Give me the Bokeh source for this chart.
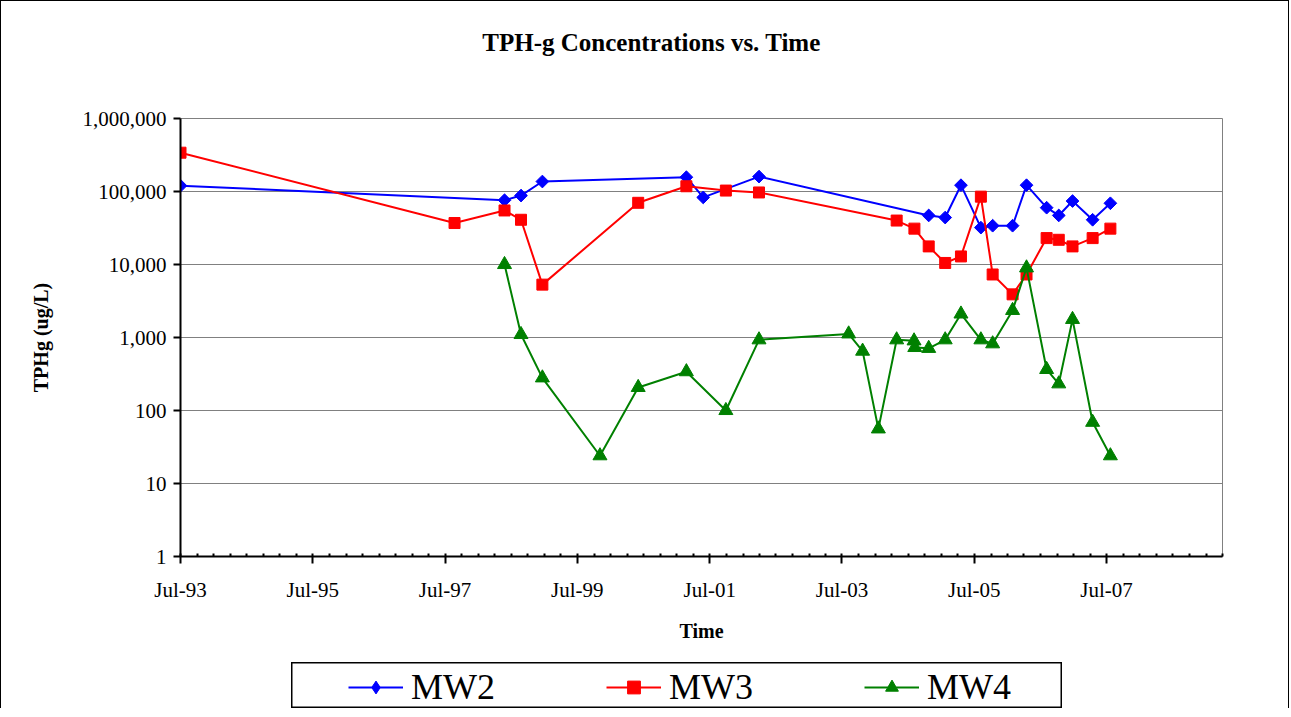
import numpy as np
import pandas as pd
from bokeh.plotting import figure
from bokeh.layouts import column, row
from bokeh.models import (Range1d, FixedTicker, DatetimeTickFormatter, NumeralTickFormatter,
                          Legend, LegendItem, Label, Spacer)
from bokeh.embed import file_html
from bokeh.resources import INLINE

SERIF = "Liberation Serif"

# ---------------- data ----------------
mw2_dates = ["1993-07-01", "1998-05-25", "1998-08-24", "1998-12-20", "2001-02-22", "2001-05-26",
             "2002-03-30", "2004-10-22", "2005-01-21", "2005-04-18", "2005-08-06", "2005-10-10",
             "2006-01-28", "2006-04-15", "2006-08-04", "2006-10-10", "2006-12-25", "2007-04-15",
             "2007-07-22"]
mw2_values = [120000, 76000, 88000, 137000, 157000, 83000,
              160000, 47000, 44000, 122000, 32000, 34000,
              34000, 122000, 60000, 47000, 74000, 41000,
              69000]

mw3_dates = ["1993-07-01", "1997-08-22", "1998-05-25", "1998-08-24", "1998-12-20", "2000-06-01",
             "2001-02-22", "2001-09-28", "2002-03-30", "2004-04-28", "2004-08-04", "2004-10-22",
             "2005-01-21", "2005-04-18", "2005-08-06", "2005-10-10", "2006-01-28", "2006-04-15",
             "2006-08-04", "2006-10-10", "2006-12-25", "2007-04-15", "2007-07-22"]
mw3_values = [340000, 37000, 55000, 41000, 5300, 70000,
              118000, 103000, 97000, 40000, 31000, 17700,
              10500, 12900, 85000, 7300, 3900, 7300,
              23000, 21800, 17700, 23000, 31000]

mw4_dates = ["1998-05-25", "1998-08-24", "1998-12-20", "1999-11-03", "2000-06-01", "2001-02-22",
             "2001-09-28", "2002-03-30", "2003-08-07", "2003-10-23", "2004-01-18", "2004-04-28",
             "2004-08-02", "2004-08-06", "2004-10-22", "2005-01-21", "2005-04-18", "2005-08-06",
             "2005-10-10", "2006-01-28", "2006-04-15", "2006-08-04", "2006-10-10", "2006-12-25",
             "2007-04-15", "2007-07-22"]
mw4_values = [10000, 1100, 280, 24, 207, 340,
              100, 930, 1120, 650, 56, 930,
              900, 730, 710, 930, 2100, 930,
              820, 2350, 9000, 365, 232, 1770,
              69, 24]

major_tick_dates = ["1993-07-01", "1995-07-01", "1997-07-01", "1999-07-01",
                    "2001-07-01", "2003-07-01", "2005-07-01", "2007-07-01"]
x_start, x_end = "1993-07-01", "2009-04-01"
y_ticks = [1, 10, 100, 1000, 10000, 100000, 1000000]

title_text = "TPH-g Concentrations vs. Time"
x_title = "Time"
y_title = "TPHg (ug/L)"
series_names = ["MW2", "MW3", "MW4"]


def ms(s):
    return pd.Timestamp(s).value / 1e6


minor_tick_dates = pd.date_range(x_start, x_end, freq="3MS")

W = 1287
TITLE_H = 82
MAIN_H = 579
LEG_W, LEG_H = 771, 46

# ---------------- title strip ----------------
# (frames in a column are aligned, so this strip's frame starts where the chart's does)
tf = figure(width=W, height=TITLE_H, x_range=Range1d(0, 1), y_range=Range1d(0, 1),
            x_axis_location=None, y_axis_location=None, title_location=None,
            toolbar_location=None, output_backend="svg", min_border=0,
            outline_line_color=None, background_fill_color="white", border_fill_color="white")
tf.grid.visible = False
tf.add_layout(Label(x=471, y=41, x_units="screen", y_units="screen", text=title_text,
                    text_align="center", text_baseline="middle", text_font=SERIF,
                    text_font_size="25px", text_font_style="bold", text_color="black"))

# ---------------- main chart ----------------
p = figure(width=W, height=MAIN_H, x_axis_type="datetime", y_axis_type="log",
           x_range=Range1d(ms(x_start), ms(x_end)), y_range=Range1d(1, 1e6),
           title_location=None, output_backend="svg", toolbar_location=None,
           min_border_left=179, min_border_right=66, min_border_top=35, min_border_bottom=106,
           background_fill_color="white", border_fill_color="white",
           outline_line_color="#808080", outline_line_width=1)

p.xaxis.ticker = FixedTicker(ticks=[ms(d) for d in major_tick_dates],
                             minor_ticks=[ms(d) for d in minor_tick_dates])
fmt = "%b-%y"
p.xaxis.formatter = DatetimeTickFormatter(days=fmt, months=fmt, years=fmt, boundary_scaling=False)
p.yaxis.ticker = FixedTicker(ticks=y_ticks, minor_ticks=[])
p.yaxis.formatter = NumeralTickFormatter(format="0,0")

for ax in (p.xaxis[0], p.yaxis[0]):
    ax.axis_line_color = "black"
    ax.axis_line_width = 2
    ax.major_tick_line_color = "black"
    ax.major_tick_line_width = 2
    ax.major_tick_in = 0
    ax.major_tick_out = 7
    ax.major_label_text_font = SERIF
    ax.major_label_text_font_size = "21px"
    ax.major_label_text_color = "black"
    ax.axis_label_text_font = SERIF
    ax.axis_label_text_font_size = "20px"
    ax.axis_label_text_font_style = "bold"
    ax.axis_label_text_color = "black"

p.xaxis.axis_label = x_title
p.yaxis.axis_label = y_title
p.xaxis.minor_tick_line_color = "black"
p.xaxis.minor_tick_line_width = 2
p.xaxis.minor_tick_in = 3
p.xaxis.minor_tick_out = 0
p.yaxis.minor_tick_line_color = None
p.xaxis.major_label_standoff = 14
p.xaxis.axis_label_standoff = 15
p.yaxis.major_label_standoff = 7
p.yaxis.axis_label_standoff = 28

p.xgrid.visible = False
p.ygrid.grid_line_color = "#808080"
p.ygrid.grid_line_width = 1

# color, chart marker, size, angle, key marker
styles = {
    "MW2": ("#0000FF", "square", 9, np.pi / 4, "diamond"),
    "MW3": ("#FF0000", "square", 11, 0, "square"),
    "MW4": ("#008000", "triangle", 14, 0, "triangle"),
}
data = {"MW2": (mw2_dates, mw2_values), "MW3": (mw3_dates, mw3_values), "MW4": (mw4_dates, mw4_values)}

# ---------------- legend strip ----------------
lf = figure(width=LEG_W, height=LEG_H, x_range=Range1d(0, 1), y_range=Range1d(0, 1),
            x_axis_location=None, y_axis_location=None, title_location=None,
            toolbar_location=None, output_backend="svg", min_border=0,
            outline_line_color="black", outline_line_width=2,
            background_fill_color="white", border_fill_color="white")
lf.grid.visible = False

items = []
for name in series_names:
    color, marker, size, angle, key_marker = styles[name]
    dates, vals = data[name]
    x = pd.to_datetime(dates)
    p.line(x, vals, line_color=color, line_width=2)
    p.scatter(x, vals, marker=marker, size=size, angle=angle, fill_color=color, line_color=color)
    # key glyphs: same series, lying outside this strip's ranges (only the key sample shows)
    kl = lf.line(x, vals, line_color=color, line_width=2)
    ks = lf.scatter(x, vals, marker=key_marker, fill_color=color, line_color=color)
    items.append(LegendItem(label=name, renderers=[kl, ks]))

legend = Legend(items=items, location=(57, 0), orientation="horizontal",
                padding=0, spacing=111, glyph_width=55, glyph_height=32, label_standoff=8,
                label_text_font=SERIF, label_text_font_size="36px", label_text_color="black",
                border_line_alpha=0, background_fill_alpha=0)
lf.add_layout(legend, "center")

layout = column(tf, p, row(Spacer(width=290, height=LEG_H), lf),
                styles={"border": "1px solid black", "border-bottom": "none"})

open("out.html", "w").write(file_html(layout, INLINE))
